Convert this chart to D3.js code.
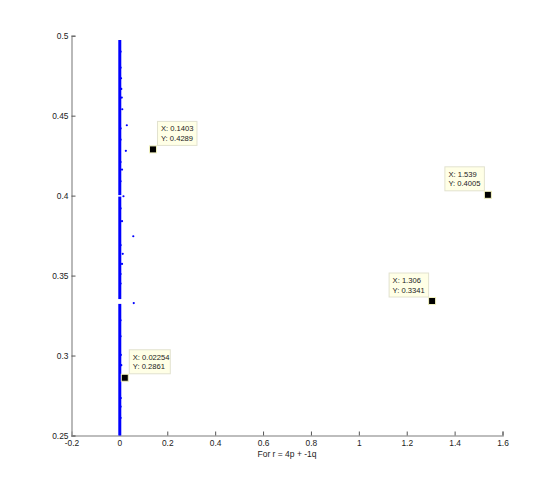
<!DOCTYPE html>
<html><head><meta charset="utf-8">
<script src="https://cdn.jsdelivr.net/npm/d3@7"></script>
<style>body{margin:0;background:#fff}svg{display:block}text{font-family:"Liberation Sans",Arial,sans-serif}</style>
</head><body><svg id="c" width="554" height="489"></svg>
<script>
// Dense band of points along x ≈ 0 (y ranges)
const bandStart = [0.25, 0.3353, 0.4003];
const bandEnd   = [0.3323, 0.3994, 0.4973];
// Scattered points near the band
const dotX = [0.012,0.031,0.027,0.017,0.011,0.058,0.014,0.060,0.010,0.008,0.007,0.011,0.011,0.008,0.006,0.005,0.006,0.005,0.005,
  0.005,0.005,0.005,0.005,0.005,0.005,0.005,0.005,0.005,0.005,0.005,0.005];
const dotY = [0.454,0.444,0.428,0.3996,0.384,0.3746,0.3636,0.3328,0.4613,0.4667,0.4734,0.4163,0.3573,0.294,0.2734,0.2848,0.3004,0.49,0.48,
  0.435,0.421,0.409,0.392,0.369,0.351,0.345,0.322,0.312,0.268,0.261,0.442];
// Data tips
const tipX = [0.1403, 1.539, 1.306, 0.02254];
const tipY = [0.4289, 0.4005, 0.3341, 0.2861];
const tipXText = ["0.1403","1.539","1.306","0.02254"];
const tipYText = ["0.4289","0.4005","0.3341","0.2861"];
const tipSide = ["right","left","left","right"];
const xTicks = [-0.2,0,0.2,0.4,0.6,0.8,1,1.2,1.4,1.6];
const yTicks = [0.25,0.3,0.35,0.4,0.45,0.5];
const xLabel = "For r = 4p + -1q";

const svg = d3.select("#c");
const L = 71.5, R = 502.5, T = 35.7, B = 435.5;
const x = d3.scaleLinear().domain([-0.2,1.6]).range([L,R]);
const y = d3.scaleLinear().domain([0.25,0.5]).range([B,T]);

// axes
const xa = svg.append("g").attr("transform",`translate(0,${B})`)
  .call(d3.axisBottom(x).tickValues(xTicks).tickSize(-4).tickPadding(4.5).tickFormat(d=>String(d)));
const ya = svg.append("g").attr("transform",`translate(${L},0)`)
  .call(d3.axisLeft(y).tickValues(yTicks).tickSize(-4).tickPadding(3).tickFormat(d=>String(d)));
[xa,ya].forEach(a=>{
  a.select(".domain").attr("stroke","#a8a8a8").attr("stroke-width",1.6);
  a.selectAll(".tick line").attr("stroke","#555");
  a.selectAll("text").attr("font-size","8.4px").attr("fill","#222").attr("font-family","Liberation Sans, Arial, sans-serif");
});
svg.append("text").attr("x",(L+R)/2).attr("y",457).attr("text-anchor","middle")
  .attr("font-size","8.5px").attr("fill","#222").text(xLabel);

// band
svg.append("g").selectAll("line").data(bandStart).join("line")
  .attr("x1",x(0)+0.4).attr("x2",x(0)+0.4)
  .attr("y1",(d,i)=>y(d)).attr("y2",(d,i)=>y(bandEnd[i]))
  .attr("stroke","#0000ff").attr("stroke-width",3);
// dots
svg.append("g").selectAll("circle").data(dotX).join("circle")
  .attr("cx",d=>x(d)).attr("cy",(d,i)=>y(dotY[i])).attr("r",1.1).attr("fill","#0000ff");
svg.append("g").selectAll("circle").data(tipX).join("circle")
  .attr("cx",d=>x(d)).attr("cy",(d,i)=>y(tipY[i])).attr("r",1.1).attr("fill","#0000ff");

// data tips
const tg = svg.append("g");
tipX.forEach((d,i)=>{
  const px = x(d), py = y(tipY[i]);
  const w = tipXText[i].length>6 ? 41 : 39.5, h = 24;
  const bx = tipSide[i]==="right" ? px+4.5 : px-3.5-w;
  const by = py-4-h;
  tg.append("rect").attr("x",bx).attr("y",by).attr("width",w).attr("height",h)
    .attr("fill","#ffffe6").attr("stroke","#e2e2cf").attr("stroke-width",1);
  tg.append("text").attr("x",bx+3.5).attr("y",by+10).attr("font-size","7.6px").attr("fill","#222").text("X: "+tipXText[i]);
  tg.append("text").attr("x",bx+3.5).attr("y",by+19.5).attr("font-size","7.6px").attr("fill","#222").text("Y: "+tipYText[i]);
  tg.append("rect").attr("x",px-3.5).attr("y",py-3.5).attr("width",7).attr("height",7)
    .attr("fill","#000").attr("stroke","#f2f2c0").attr("stroke-width",1);
});
</script></body></html>
